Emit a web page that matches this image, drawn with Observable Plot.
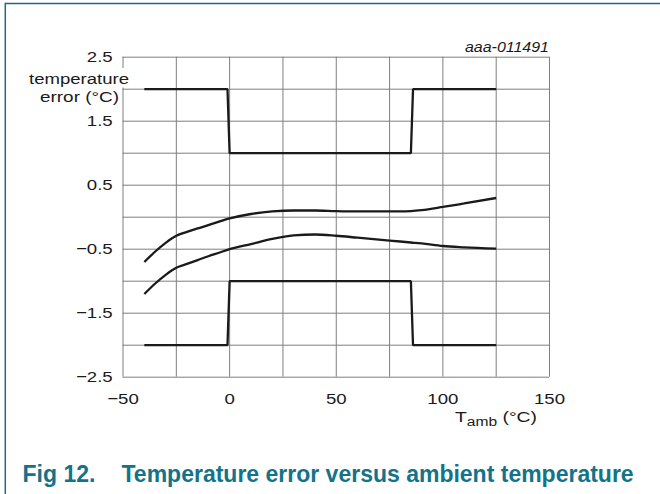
<!DOCTYPE html>
<html>
<head>
<meta charset="utf-8">
<script src="https://cdn.jsdelivr.net/npm/d3@7"></script>
<script src="https://cdn.jsdelivr.net/npm/@observablehq/plot@0.6"></script>
<style>
  html, body { margin: 0; padding: 0; background: #fff; }
  #chart { width: 660px; height: 494px; overflow: hidden; }
</style>
</head>
<body>
<div id="chart"></div>
<script>
// ---- data ----
const limitT      = [-40, -1, 0, 85, 86, 125];
const upperLimit  = [2, 2, 1, 1, 2, 2];
const lowerLimit  = [-2, -2, -1, -1, -2, -2];

const typT    = [-40, -35, -30, -25, -20, -15, -10, -5, 0, 10, 20, 30, 40, 50, 60, 70, 80, 85, 90, 100, 110, 125];
const typHigh = [-0.70, -0.54, -0.40, -0.29, -0.23, -0.175, -0.125, -0.07, -0.02, 0.05, 0.09, 0.105, 0.105, 0.095, 0.09, 0.09, 0.09, 0.095, 0.11, 0.16, 0.215, 0.30];
const typLow  = [-1.20, -1.04, -0.90, -0.79, -0.73, -0.67, -0.61, -0.555, -0.50, -0.42, -0.34, -0.285, -0.27, -0.29, -0.32, -0.35, -0.38, -0.395, -0.41, -0.45, -0.47, -0.49];

const xTicks     = [-50, 0, 50, 100, 150];
const xGrid      = [-50, -25, 0, 25, 50, 75, 100, 125, 150];
const yTicks     = [-2.5, -1.5, -0.5, 0.5, 1.5, 2.5];
const yGrid      = [-2.5, -2, -1.5, -1, -0.5, 0, 0.5, 1, 1.5, 2, 2.5];

const titleNum   = "Fig 12.";
const titleText  = "Temperature error versus ambient temperature";
const codeText   = "aaa-011491";
const yLabel1    = "temperature";
const yLabel2    = "error (°C)";

// ---- tables built from the arrays ----
const limUp  = limitT.map((t, i) => ({t, v: upperLimit[i]}));
const limLo  = limitT.map((t, i) => ({t, v: lowerLimit[i]}));
const typHi  = typT.map((t, i) => ({t, v: typHigh[i]}));
const typLo  = typT.map((t, i) => ({t, v: typLow[i]}));

const fmt = d => (d < 0 ? "\u2212" + Math.abs(d) : String(d));
const lineStyle = {x: "t", y: "v", stroke: "#1a1a1a", strokeWidth: 2.3, strokeLinejoin: "miter", strokeLinecap: "butt"};

const svg = Plot.plot({
  width: 660,
  height: 494,
  marginLeft: 122.5,
  marginRight: 111,
  marginTop: 56.7,
  marginBottom: 117.3,
  style: {fontFamily: "'Liberation Sans', Arial, sans-serif", fontSize: "15.5px", color: "#1a1a1a", background: "#fff", overflow: "visible"},
  x: {domain: [-50, 150]},
  y: {domain: [-2.5, 2.5]},
  marks: [
    Plot.gridX(xGrid, {stroke: "#7f7f7f", strokeOpacity: 1, strokeWidth: 1}),
    Plot.gridY(yGrid, {stroke: "#7f7f7f", strokeOpacity: 1, strokeWidth: 1}),
    Plot.axisX(xTicks, {tickSize: 0, tickPadding: 15.3, tickFormat: fmt, label: null}),
    Plot.axisY(yTicks, {tickSize: 0, tickPadding: 10.3, tickFormat: fmt, label: null}),
    Plot.line(limUp, lineStyle),
    Plot.line(limLo, lineStyle),
    Plot.line(typHi, {...lineStyle, curve: "monotone-x"}),
    Plot.line(typLo, {...lineStyle, curve: "monotone-x"})
  ]
});

document.getElementById("chart").appendChild(svg);

const s = d3.select(svg);

// frame of the figure
s.append("line").attr("x1", 5.3).attr("y1", 3.5).attr("x2", 660).attr("y2", 3.5)
  .attr("stroke", "#1a6c82").attr("stroke-width", 1.5);
s.append("line").attr("x1", 5.3).attr("y1", 2.8).attr("x2", 5.3).attr("y2", 494)
  .attr("stroke", "#1a6c82").attr("stroke-width", 1.5);

// stretch the regular axis texts horizontally (reference type is wide)
svg.querySelectorAll("text").forEach(t => {
  const L = t.getComputedTextLength();
  if (L > 0) {
    t.setAttribute("textLength", (L * 1.2).toFixed(2));
    t.setAttribute("lengthAdjust", "spacingAndGlyphs");
  }
});

// y label with white backing
s.append("rect").attr("x", 27).attr("y", 68).attr("width", 104).attr("height", 19.5).attr("fill", "#fff");
s.append("text").attr("x", 79).attr("y", 83.5).attr("text-anchor", "middle")
  .attr("font-size", 15.5).attr("fill", "#1a1a1a")
  .attr("textLength", 100).attr("lengthAdjust", "spacingAndGlyphs").text(yLabel1);
s.append("text").attr("x", 79.5).attr("y", 102).attr("text-anchor", "middle")
  .attr("font-size", 15.5).attr("fill", "#1a1a1a")
  .attr("textLength", 79).attr("lengthAdjust", "spacingAndGlyphs").text(yLabel2);

// x label T_amb (°C)
const xl = s.append("text").attr("x", 537).attr("y", 421.7).attr("text-anchor", "end")
  .attr("font-size", 15.5).attr("fill", "#1a1a1a")
  .attr("textLength", 82).attr("lengthAdjust", "spacingAndGlyphs");
xl.append("tspan").text("T");
xl.append("tspan").attr("font-size", 12.5).attr("dy", 4).text("amb");
xl.append("tspan").attr("dy", -4).text(" (°C)");

// figure code
s.append("text").attr("x", 549).attr("y", 51.5).attr("text-anchor", "end")
  .attr("font-size", 14).attr("font-style", "italic").attr("fill", "#1a1a1a")
  .attr("textLength", 84).attr("lengthAdjust", "spacingAndGlyphs").text(codeText);

// caption
s.append("text").attr("x", 22.5).attr("y", 482).attr("text-anchor", "start")
  .attr("font-size", 23).attr("font-weight", "bold")
  .attr("fill", "#13738a").text(titleNum);
s.append("text").attr("x", 121.5).attr("y", 482).attr("text-anchor", "start")
  .attr("font-size", 23).attr("font-weight", "bold")
  .attr("fill", "#13738a").text(titleText);
</script>
</body>
</html>
